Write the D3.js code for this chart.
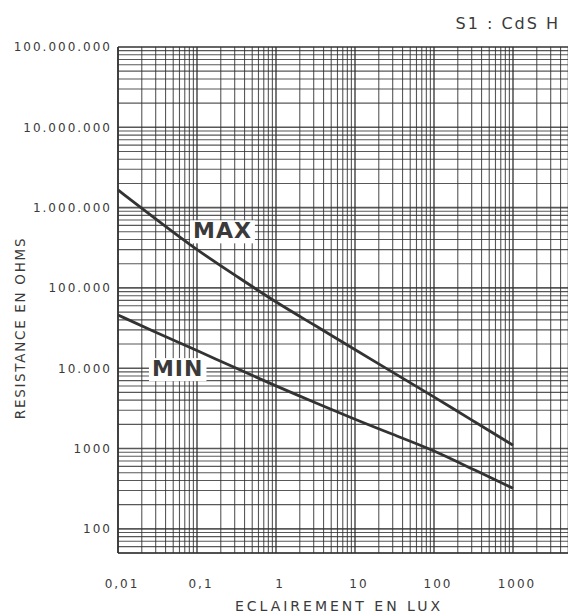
<!DOCTYPE html>
<html>
<head>
<meta charset="utf-8">
<script src="https://cdn.jsdelivr.net/npm/d3@7"></script>
<style>
    body { margin: 0; background: white; }
    text { font-family: "DejaVu Sans", sans-serif; fill: #3a3a3a; }
</style>
</head>
<body>
<svg id="chart"></svg>
<script>
// illumination (lux) where the curves were read
const lux = [0.01, 0.03, 0.1, 0.3, 1, 3, 10, 30, 100, 300, 1000];
// resistance of the cell, max and min spread
const maxOhms = [1660000, 720000, 295000, 145000, 66000, 35000, 17000, 8900, 4400, 2260, 1100];
const minOhms = [46000, 28000, 16600, 10200, 6000, 3800, 2300, 1500, 950, 560, 320];

// tick values and how the original prints them
const luxTicks = [0.01, 0.1, 1, 10, 100, 1000, 10000];
const luxTickLabels = ["0,01", "0,1", "1", "10", "100", "1000", "10000"];
const ohmTicks = [1e2, 1e3, 1e4, 1e5, 1e6, 1e7, 1e8];
const ohmTickLabels = ["100", "1000", "10.000", "100.000", "1.000.000", "10.000.000", "100.000.000"];

// curve names and where they are written
const curveNames = ["MAX", "MIN"];
const nameLux = [0.21, 0.057];
const nameOhms = [520000, 10000];

let width = 568;
let height = 615;

let svg = d3.select("#chart")
    .attr("width", width)
    .attr("height", height)
    .style("background-color", "white");

let x = d3.scaleLog().domain([0.01, 10000]).range([118, 592]);
let y = d3.scaleLog().domain([50, 1e8]).range([553, 47]);

let plot = svg.append("g");

// log paper grid, 1..9 in every decade
let steps = [1, 2, 3, 4, 5, 6, 7, 8, 9];
let xGrid = [];
for (let e = -2; e <= 3; e++) {
    steps.forEach(s => xGrid.push({ v: s * Math.pow(10, e), major: s === 1 }));
}
let yGrid = [];
for (let e = 1; e <= 7; e++) {
    steps.forEach(s => {
        let v = s * Math.pow(10, e);
        if (v >= 50 && v <= 1e8) yGrid.push({ v: v, major: s === 1 });
    });
}

plot.selectAll(".vgrid")
    .data(xGrid)
    .enter()
    .append("line")
    .attr("x1", d => x(d.v))
    .attr("x2", d => x(d.v))
    .attr("y1", y(1e8))
    .attr("y2", y(50))
    .style("stroke", "#2f2f2f")
    .style("stroke-width", d => d.major ? 1.6 : 1.1)
    .style("opacity", 0.8);

plot.selectAll(".hgrid")
    .data(yGrid)
    .enter()
    .append("line")
    .attr("x1", x(0.01))
    .attr("x2", width)
    .attr("y1", d => y(d.v))
    .attr("y2", d => y(d.v))
    .style("stroke", "#2f2f2f")
    .style("stroke-width", d => d.major ? 1.6 : 1.1)
    .style("opacity", 0.8);

// frame
plot.append("line")
    .attr("x1", x(0.01)).attr("x2", x(0.01))
    .attr("y1", y(1e8)).attr("y2", y(50))
    .style("stroke", "#333").style("stroke-width", 1.6);
plot.append("line")
    .attr("x1", x(0.01)).attr("x2", width)
    .attr("y1", y(1e8)).attr("y2", y(1e8))
    .style("stroke", "#333").style("stroke-width", 1.6);
plot.append("line")
    .attr("x1", x(0.01)).attr("x2", width)
    .attr("y1", y(50)).attr("y2", y(50))
    .style("stroke", "#333").style("stroke-width", 1.6);

// the two curves
let line = d3.line()
    .x((d, i) => x(lux[i]))
    .y(d => y(d))
    .curve(d3.curveBasis);

[maxOhms, minOhms].forEach(series => {
    plot.append("path")
        .attr("d", line(series))
        .style("fill", "none")
        .style("stroke", "#333")
        .style("stroke-width", 2.8);
});

// MAX / MIN labels sitting on a white patch
curveNames.forEach((name, i) => {
    let g = plot.append("g");
    let t = g.append("text")
        .text(name)
        .attr("x", x(nameLux[i]))
        .attr("y", y(nameOhms[i]))
        .attr("dy", ".36em")
        .style("text-anchor", "middle")
        .style("font-size", "22px")
        .style("font-weight", "bold")
        .style("letter-spacing", "1px");
    let b = t.node().getBBox();
    g.insert("rect", "text")
        .attr("x", b.x - 3)
        .attr("y", b.y + 2)
        .attr("width", b.width + 6)
        .attr("height", b.height - 2)
        .style("fill", "white");
});

// tick labels
svg.selectAll(".ylab")
    .data(ohmTicks)
    .enter()
    .append("text")
    .text((d, i) => ohmTickLabels[i])
    .attr("x", 112)
    .attr("y", d => y(d))
    .attr("dy", ".36em")
    .style("text-anchor", "end")
    .style("font-size", "12px")
    .style("letter-spacing", "2px");

svg.selectAll(".xlab")
    .data(luxTicks)
    .enter()
    .append("text")
    .text((d, i) => luxTickLabels[i])
    .attr("x", d => x(d))
    .attr("dx", 4)
    .attr("y", 588)
    .style("text-anchor", "middle")
    .style("font-size", "12px")
    .style("letter-spacing", "2px");

// axis titles
svg.append("text")
    .text("ECLAIREMENT EN LUX")
    .attr("x", 339)
    .attr("y", 611)
    .style("text-anchor", "middle")
    .style("font-size", "14px")
    .style("letter-spacing", "3px");

svg.append("text")
    .text("RESISTANCE EN OHMS")
    .attr("transform", "translate(25,328) rotate(-90)")
    .style("text-anchor", "middle")
    .style("font-size", "13.5px")
    .style("letter-spacing", "1.7px");

svg.append("text")
    .text("S1 : CdS H")
    .attr("x", 560)
    .attr("y", 29)
    .style("text-anchor", "end")
    .style("font-size", "16px")
    .style("letter-spacing", "2px");
</script>
</body>
</html>
